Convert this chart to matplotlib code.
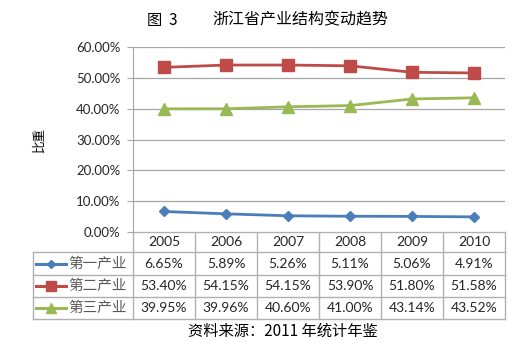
import matplotlib
matplotlib.use("Agg")
import matplotlib.pyplot as plt

plt.rcParams['font.family'] = ['Lato', 'Noto Sans CJK SC']

years = ["2005", "2006", "2007", "2008", "2009", "2010"]
series_names = ["第一产业", "第二产业", "第三产业"]
primary = [6.65, 5.89, 5.26, 5.11, 5.06, 4.91]
secondary = [53.40, 54.15, 54.15, 53.90, 51.80, 51.58]
tertiary = [39.95, 39.96, 40.60, 41.00, 43.14, 43.52]
colors = ["#4A7EBB", "#BE4B48", "#98B954"]
markers = ["D", "s", "^"]
msizes = [5.5, 8, 8.5]

W, H = 532, 360
fig = plt.figure(figsize=(W / 100, H / 100), dpi=100)

# plot area in pixels
L, R, T, B = 133, 505, 47, 232
ax = fig.add_axes([L / W, 1 - B / H, (R - L) / W, (B - T) / H])
xs = list(range(len(years)))
for vals, c, m, ms in zip([primary, secondary, tertiary], colors, markers, msizes):
    ax.plot(xs, vals, color=c, lw=2, marker=m, ms=ms, mec=c, mfc=c)
ax.set_xlim(-0.5, len(years) - 0.5)
ax.set_ylim(0, 60)
ax.set_yticks(range(0, 61, 10))
ax.set_yticklabels([f"{v:.2f}%" for v in range(0, 61, 10)], fontsize=9.5, color="#262626")
ax.yaxis.grid(True, color="#A6A6A6", lw=0.9)
ax.set_axisbelow(True)
ax.set_xticks([])
for s in ["top", "right", "bottom"]:
    ax.spines[s].set_visible(False)
ax.spines["left"].set_color("#A6A6A6")
ax.tick_params(axis="y", length=4, color="#A6A6A6", pad=5)
ax.set_ylabel("比重", fontsize=9, family=["Noto Sans CJK SC"], labelpad=22)

# overlay for table and text, pixel coords
ov = fig.add_axes([0, 0, 1, 1], zorder=-1)
ov.set_xlim(0, W)
ov.set_ylim(H, 0)
ov.axis("off")

gc = "#B0B0B0"
col_w = (R - L) / len(years)
rows_y = [232, 252, 275, 297, 319]
LX = 33
# horizontal lines
ov.plot([L, R], [rows_y[0], rows_y[0]], color=gc, lw=1)
for y in rows_y[1:]:
    ov.plot([LX, R], [y, y], color=gc, lw=1)
# vertical lines
for i in range(len(years) + 1):
    x = L + i * col_w
    ov.plot([x, x], [rows_y[0], rows_y[-1]], color=gc, lw=1)
ov.plot([LX, LX], [rows_y[1], rows_y[-1]], color=gc, lw=1)

for i, yr in enumerate(years):
    ov.text(L + (i + 0.5) * col_w, (rows_y[0] + rows_y[1]) / 2, yr,
            ha="center", va="center", fontsize=10, color="#262626")
for r, (name, vals, c, m, ms) in enumerate(zip(series_names, [primary, secondary, tertiary],
                                                colors, markers, msizes)):
    yc = (rows_y[r + 1] + rows_y[r + 2]) / 2
    ov.plot([36, 66], [yc, yc], color=c, lw=2.2)
    ov.plot([51], [yc], marker=m, ms=ms - 1.5, color=c)
    ov.text(68, yc, name, ha="left", va="center", fontsize=10.5,
            family=["Noto Sans CJK SC"], color="#595959")
    for i, v in enumerate(vals):
        ov.text(L + (i + 0.5) * col_w, yc, f"{v:.2f}%", ha="center", va="center",
                fontsize=10, color="#262626")

ov.text(147, 20, "图  3", ha="left", va="center", fontsize=11, family=["Noto Sans CJK SC"])
ov.text(212, 20, "浙江省产业结构变动趋势", ha="left", va="center", fontsize=11.5,
        family=["Noto Sans CJK SC"])
ov.text(283, 331, "资料来源：2011 年统计年鉴", ha="center", va="center", fontsize=11,
        family=["Noto Sans CJK SC"])

fig.savefig("out.png", dpi=100)
